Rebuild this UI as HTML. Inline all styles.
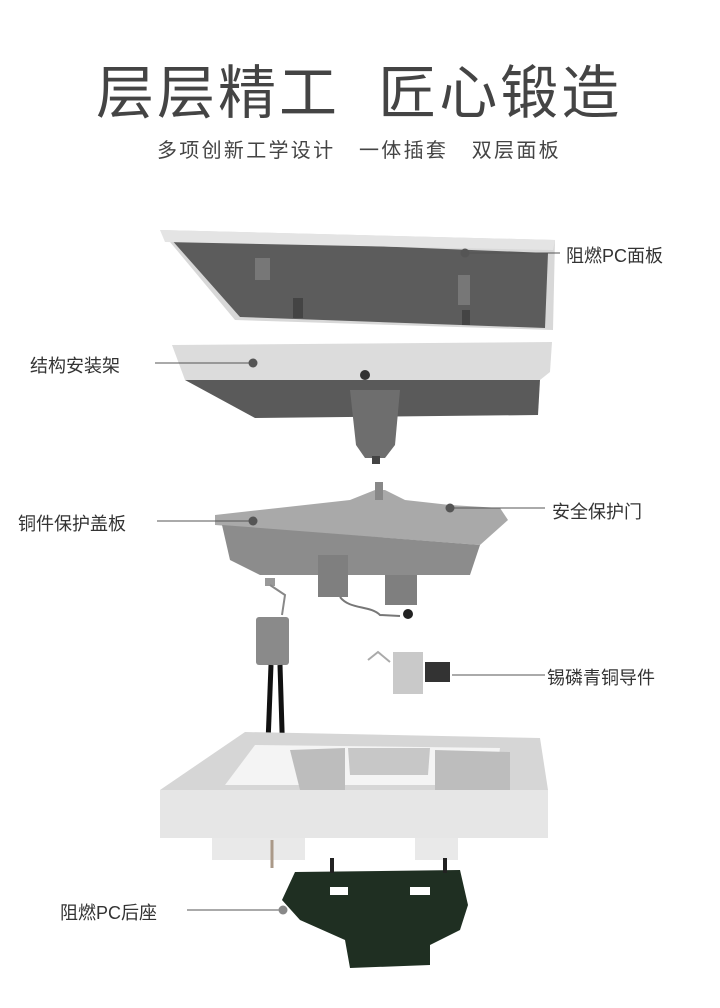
<!DOCTYPE html>
<html><head><meta charset="utf-8"><style>
html,body{margin:0;padding:0;background:#fff;}
body{width:720px;height:1008px;position:relative;overflow:hidden;font-family:"Liberation Sans","Noto Sans CJK SC",sans-serif;}
.t{position:absolute;color:#444;white-space:nowrap;}
.lbl{position:absolute;font-size:18px;color:#333;white-space:nowrap;}
</style></head><body>
<div class="t" style="left:96px;top:46px;font-size:58px;letter-spacing:3px;">层层精工&nbsp;&nbsp;匠心锻造</div>
<div class="t" style="left:157px;top:134px;font-size:20px;letter-spacing:2.3px;color:#444;">多项创新工学设计&nbsp;&nbsp;&nbsp;一体插套&nbsp;&nbsp;&nbsp;双层面板</div>

<svg width="720" height="1008" style="position:absolute;left:0;top:0">
<polygon points="160,230 555,240 553,330 235,320" fill="#d8d8d8"/>
<polygon points="170,238 548,253 545,328 240,317" fill="#5c5c5c"/>
<polygon points="160,230 555,240 553,250 165,242" fill="#e4e4e4"/>
<rect x="255" y="258" width="15" height="22" fill="#777"/>
<rect x="293" y="298" width="10" height="20" fill="#444"/>
<rect x="458" y="275" width="12" height="30" fill="#777"/>
<rect x="462" y="310" width="8" height="15" fill="#444"/>
<polygon points="172,345 552,342 550,372 540,380 185,380" fill="#dcdcdc"/>
<polygon points="185,380 540,380 538,415 255,418" fill="#5a5a5a"/>
<polygon points="350,390 400,390 395,445 385,458 365,458 356,445" fill="#6e6e6e"/>
<rect x="372" y="456" width="8" height="8" fill="#444"/>
<circle cx="365" cy="375" r="5" fill="#333"/>
<polygon points="350,500 375,490 385,490 405,500 450,505 500,508 508,520 480,545 215,525 215,515" fill="#a9a9a9"/>
<rect x="375" y="482" width="8" height="18" fill="#888"/>
<polygon points="222,525 480,545 470,575 260,575 230,560" fill="#8c8c8c"/>
<rect x="318" y="555" width="30" height="42" fill="#7f7f7f"/>
<rect x="385" y="575" width="32" height="30" fill="#7f7f7f"/>
<path d="M340,597 C350,610 370,605 380,615 L400,616" stroke="#777" stroke-width="2" fill="none"/>
<circle cx="408" cy="614" r="5" fill="#222"/>
<rect x="265" y="578" width="10" height="8" fill="#999"/>
<path d="M270,585 L285,595 L282,615" stroke="#888" stroke-width="2" fill="none"/>
<rect x="256" y="617" width="33" height="48" rx="3" fill="#8a8a8a"/>
<line x1="271" y1="665" x2="266" y2="795" stroke="#111" stroke-width="5"/>
<line x1="280" y1="665" x2="284" y2="795" stroke="#111" stroke-width="5"/>
<path d="M368,660 L378,652 L390,662" stroke="#aaa" stroke-width="2" fill="none"/>
<rect x="393" y="652" width="30" height="42" fill="#c9c9c9"/>
<rect x="425" y="662" width="25" height="20" fill="#333"/>
<polygon points="245,732 540,738 548,790 160,790" fill="#d6d6d6"/>
<polygon points="255,745 500,748 495,785 225,785" fill="#f4f4f4"/>
<polygon points="290,750 345,748 345,790 300,790" fill="#bdbdbd"/>
<polygon points="348,748 430,748 428,775 350,775" fill="#c7c7c7"/>
<polygon points="435,750 510,752 510,790 435,790" fill="#bdbdbd"/>
<rect x="160" y="790" width="388" height="48" fill="#e6e6e6"/>
<rect x="212" y="838" width="93" height="22" fill="#e9e9e9"/>
<rect x="415" y="838" width="43" height="22" fill="#e9e9e9"/>
<line x1="272" y1="840" x2="272" y2="868" stroke="#a98" stroke-width="3"/>
<polygon points="295,872 460,870 468,905 460,930 430,945 430,965 350,968 345,940 300,920 282,900" fill="#1f2f22"/>
<rect x="330" y="858" width="4" height="15" fill="#222"/>
<rect x="443" y="858" width="4" height="15" fill="#222"/>
<rect x="330" y="887" width="18" height="8" fill="#fff"/>
<rect x="410" y="887" width="20" height="8" fill="#fff"/>
<g stroke="#555" stroke-width="1">
<line x1="465" y1="253" x2="560" y2="253"/>
<line x1="155" y1="363" x2="252" y2="363"/>
<line x1="157" y1="521" x2="253" y2="521"/>
<line x1="450" y1="508" x2="545" y2="508"/>
<line x1="452" y1="675" x2="545" y2="675"/>
<line x1="187" y1="910" x2="282" y2="910"/>
</g>
<g fill="#555">
<circle cx="465" cy="253" r="4.5"/><circle cx="253" cy="363" r="4.5"/><circle cx="253" cy="521" r="4.5"/>
<circle cx="450" cy="508" r="4.5"/><circle cx="283" cy="910" r="4.5" fill="#888"/>
</g>
</svg>
<div class="lbl" style="left:566px;top:242px;">阻燃PC面板</div>
<div class="lbl" style="left:30px;top:352px;">结构安装架</div>
<div class="lbl" style="left:18px;top:510px;">铜件保护盖板</div>
<div class="lbl" style="left:552px;top:498px;">安全保护门</div>
<div class="lbl" style="left:547px;top:664px;">锡磷青铜导件</div>
<div class="lbl" style="left:60px;top:899px;">阻燃PC后座</div>
</body></html>
